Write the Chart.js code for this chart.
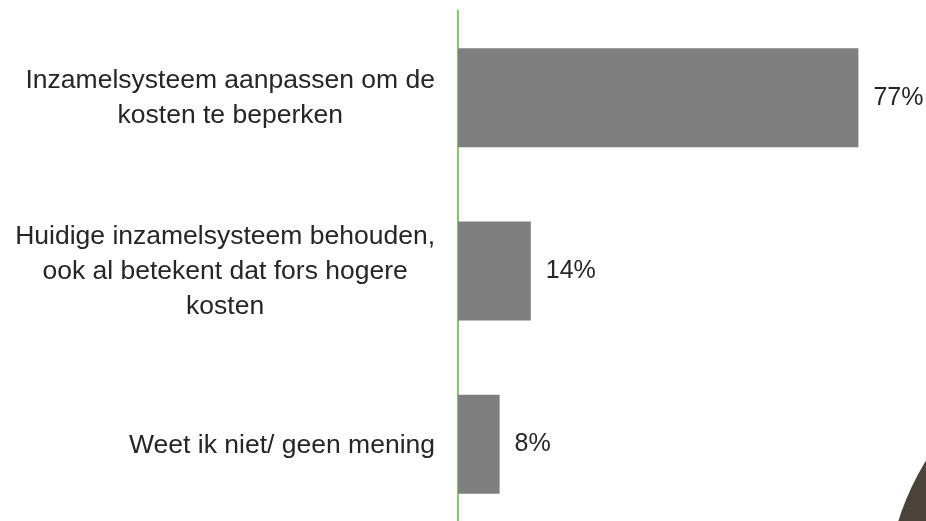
<!DOCTYPE html>
<html>
<head>
<meta charset="utf-8">
<script src="https://cdn.jsdelivr.net/npm/chart.js@4/dist/chart.umd.min.js"></script>
<style>
html,body{margin:0;padding:0;background:#fff;overflow:hidden;width:926px;height:521px;}
#wrap{position:absolute;left:0;top:0;width:926px;height:531px;}
#deco{position:absolute;left:885px;top:327px;width:558px;height:558px;border-radius:50%;background:#4b4339;}
</style>
</head>
<body>
<div id="wrap"><canvas id="c"></canvas></div>
<div id="deco"></div>
<script>
const categories = [
  ["Inzamelsysteem aanpassen om de", "kosten te beperken"],
  ["Huidige inzamelsysteem behouden,", "ook al betekent dat fors hogere", "kosten"],
  ["Weet ik niet/ geen mening"]
];
const values = [77, 14, 8];
const valueSuffix = "%";

const LABEL_FONT = '26.5px "Liberation Sans", Arial, sans-serif';
const VALUE_FONT = '25px "Liberation Sans", Arial, sans-serif';
const TEXT = '#262626';

const labelPlugin = {
  id: 'labels',
  afterDatasetsDraw(chart) {
    const ctx = chart.ctx;
    const ys = chart.scales.y;
    ctx.save();
    ctx.fillStyle = TEXT;
    ctx.textBaseline = 'middle';
    ctx.font = LABEL_FONT;
    const blockRight = ys.right - 23;
    const lh = 35;
    chart.data.labels.forEach((lab, i) => {
      const lines = Array.isArray(lab) ? lab : [lab];
      const maxW = Math.max(...lines.map(l => ctx.measureText(l).width));
      const cx = blockRight - maxW / 2;
      const y = ys.getPixelForValue(i) + 1;
      const y0 = y - (lines.length - 1) * lh / 2;
      ctx.textAlign = 'center';
      lines.forEach((l, k) => ctx.fillText(l, cx, y0 + k * lh));
    });
    ctx.font = VALUE_FONT;
    const meta = chart.getDatasetMeta(0);
    ctx.textAlign = 'left';
    meta.data.forEach((el, i) => {
      ctx.fillText(chart.data.datasets[0].data[i] + valueSuffix, el.x + 15, el.y);
    });
    ctx.restore();
  }
};

new Chart(document.getElementById('c'), {
  type: 'bar',
  data: {
    labels: categories,
    datasets: [{
      data: values,
      backgroundColor: '#7f7f7f',
      borderWidth: 0,
      categoryPercentage: 1,
      barPercentage: 0.571
    }]
  },
  options: {
    indexAxis: 'y',
    responsive: true,
    maintainAspectRatio: false,
    animation: false,
    events: [],
    layout: { padding: { top: 11, right: 26, bottom: 0, left: 0 } },
    plugins: { legend: { display: false }, tooltip: { enabled: false } },
    scales: {
      x: { display: false, min: 0, max: 85 },
      y: {
        grid: { display: false, drawTicks: false },
        border: { display: true, color: '#86c66f', width: 2 },
        ticks: { display: false },
        afterFit(scale) { scale.width = 458; }
      }
    }
  },
  plugins: [labelPlugin]
});
</script>
</body>
</html>
